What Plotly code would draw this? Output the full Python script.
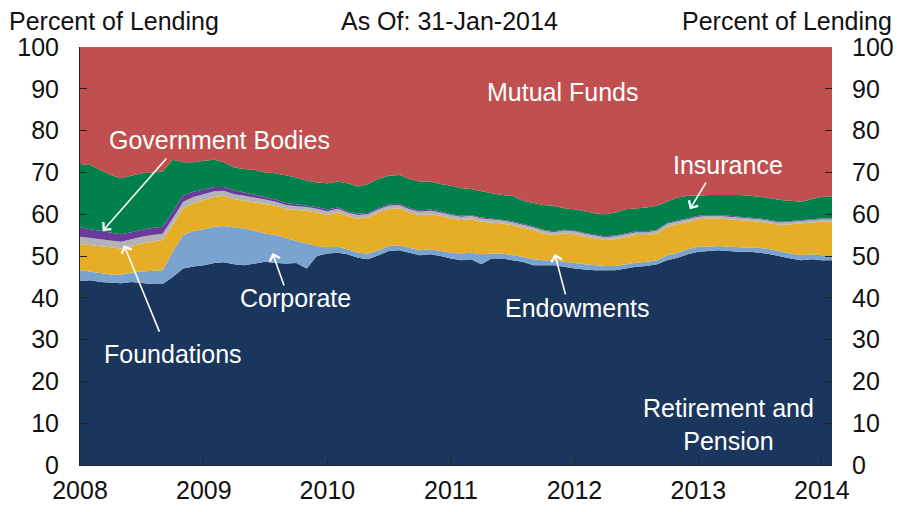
import plotly.graph_objects as go
import pandas as pd

# Monthly observations, Jan 2008 .. Jan 2014, plus the 31-Jan-2014 as-of date
dates = list(pd.date_range("2008-01-01", "2014-01-01", freq="MS").strftime("%Y-%m-%d")) + ["2014-01-31"]

# Share of securities lending by lender type (percent)
retirement = [
    44.0, 44.2, 43.8, 43.6, 43.5, 43.8, 43.5, 43.3, 43.3, 45.0, 47.0, 47.5,
    47.8, 48.3, 48.5, 48.0, 47.8, 48.3, 48.6, 48.3, 48.2, 48.3, 47.0, 50.0,
    50.6, 50.8, 50.4, 49.6, 49.2, 50.2, 51.2, 51.4, 50.8, 50.2, 50.4, 50.0,
    49.4, 49.0, 49.2, 48.0, 49.4, 49.4, 49.0, 48.6, 47.8, 47.8, 47.8, 47.4,
    47.0, 46.8, 46.6, 46.6, 46.6, 47.0, 47.4, 47.6, 48.0, 49.0, 49.6, 50.4,
    51.0, 51.2, 51.4, 51.2, 51.0, 51.0, 50.8, 50.4, 49.8, 49.4, 49.0, 49.2,
    49.0, 49.0,
]
corporate = [
    2.6, 2.0, 2.2, 2.0, 2.0, 2.2, 2.8, 3.2, 3.3, 6.0, 8.0, 8.5,
    8.6, 8.7, 8.7, 8.8, 8.8, 7.7, 6.8, 6.7, 6.0, 5.3, 6.0, 2.4,
    1.5, 1.4, 1.2, 1.2, 1.4, 1.2, 1.2, 1.2, 1.2, 1.2, 1.2, 1.2,
    1.4, 1.6, 1.6, 2.4, 1.2, 1.2, 1.2, 1.2, 1.4, 1.2, 1.2, 1.2,
    1.3, 1.2, 1.2, 1.0, 1.0, 1.0, 1.0, 1.0, 1.0, 1.2, 1.2, 1.2,
    1.2, 1.1, 1.0, 1.0, 1.1, 1.0, 1.1, 1.2, 1.2, 1.2, 1.2, 1.2,
    1.2, 1.2,
]
endowments = [
    6.3, 6.4, 6.4, 6.4, 6.3, 6.4, 6.7, 6.9, 7.2, 6.5, 6.5, 6.6,
    7.0, 7.2, 7.2, 6.8, 6.6, 6.8, 7.0, 7.0, 7.0, 7.4, 7.8, 8.0,
    7.7, 8.2, 8.0, 8.2, 8.6, 9.0, 8.8, 8.8, 8.4, 8.4, 8.4, 8.4,
    8.2, 8.0, 8.0, 7.8, 7.4, 7.2, 7.2, 7.0, 7.0, 6.4, 6.0, 6.8,
    6.9, 6.6, 6.4, 6.2, 6.4, 6.6, 6.6, 6.4, 6.4, 6.8, 6.8, 6.6,
    6.6, 6.7, 6.6, 6.6, 6.5, 6.4, 6.3, 6.2, 6.4, 7.0, 7.6, 7.6,
    8.0, 8.0,
]
foundations = [
    1.7, 1.7, 1.7, 1.7, 1.6, 1.6, 1.6, 1.6, 1.5, 1.5, 1.5, 1.5,
    1.4, 1.3, 1.2, 1.2, 1.2, 1.2, 1.1, 1.0, 1.0, 0.9, 0.9, 0.9,
    0.9, 0.9, 0.8, 0.8, 0.8, 0.8, 0.8, 0.8, 0.8, 0.8, 0.8, 0.8,
    0.8, 0.8, 0.8, 0.8, 0.8, 0.7, 0.7, 0.7, 0.7, 0.7, 0.7, 0.7,
    0.7, 0.7, 0.7, 0.7, 0.7, 0.7, 0.7, 0.7, 0.7, 0.7, 0.7, 0.7,
    0.6, 0.6, 0.6, 0.6, 0.6, 0.6, 0.6, 0.6, 0.6, 0.6, 0.6, 0.6,
    0.6, 0.6,
]
government = [
    2.2, 2.1, 2.0, 1.9, 1.8, 1.7, 1.7, 1.7, 1.7, 1.6, 1.5, 1.3,
    1.2, 1.0, 0.9, 0.9, 0.8, 0.7, 0.6, 0.5, 0.5, 0.5, 0.4, 0.4,
    0.4, 0.3, 0.3, 0.3, 0.3, 0.3, 0.3, 0.3, 0.3, 0.3, 0.3, 0.3,
    0.2, 0.2, 0.2, 0.2, 0.2, 0.2, 0.2, 0.2, 0.2, 0.2, 0.2, 0.2,
    0.2, 0.2, 0.2, 0.2, 0.2, 0.2, 0.2, 0.2, 0.2, 0.2, 0.2, 0.2,
    0.2, 0.2, 0.2, 0.2, 0.2, 0.2, 0.2, 0.2, 0.2, 0.2, 0.2, 0.2,
    0.2, 0.2,
]
insurance = [
    15.2, 15.4, 14.5, 13.8, 13.4, 13.5, 13.5, 13.3, 13.2, 12.4, 7.9, 7.0,
    6.8, 6.5, 5.9, 5.5, 5.6, 5.9, 5.9, 6.3, 6.5, 6.4, 5.9, 5.9,
    6.3, 6.2, 6.7, 6.5, 6.9, 6.9, 6.9, 6.9, 6.9, 6.9, 6.7, 6.5,
    6.8, 6.6, 6.2, 6.2, 6.0, 5.9, 6.1, 5.5, 5.5, 5.9, 6.1, 5.1,
    5.1, 5.1, 5.1, 5.3, 5.5, 5.7, 5.5, 5.7, 5.7, 5.1, 5.5, 5.3,
    4.8, 4.8, 4.8, 5.0, 5.2, 5.2, 5.2, 5.2, 5.2, 4.8, 4.4, 4.8,
    5.2, 5.2,
]
mutual_funds = [
    28.0, 28.2, 29.4, 30.6, 31.4, 30.8, 30.2, 30.0, 29.8, 27.0, 27.6, 27.6,
    27.2, 27.0, 27.6, 28.8, 29.2, 29.4, 30.0, 30.2, 30.8, 31.2, 32.0, 32.4,
    32.6, 32.2, 32.6, 33.4, 32.8, 31.6, 30.8, 30.6, 31.6, 32.2, 32.2, 32.8,
    33.2, 33.8, 34.0, 34.6, 35.0, 35.4, 35.6, 36.8, 37.4, 37.8, 38.0, 38.6,
    38.8, 39.4, 39.8, 40.0, 39.6, 38.8, 38.6, 38.4, 38.0, 37.0, 36.0, 35.6,
    35.6, 35.4, 35.4, 35.4, 35.4, 35.6, 35.8, 36.2, 36.6, 36.8, 37.0, 36.4,
    35.8, 35.8,
]

series = [
    ("Retirement and Pension", retirement, "#1B365D"),
    ("Corporate", corporate, "#7BA3D0"),
    ("Endowments", endowments, "#E6AD27"),
    ("Foundations", foundations, "#B4B4B6"),
    ("Government Bodies", government, "#6C3A9C"),
    ("Insurance", insurance, "#00804B"),
    ("Mutual Funds", mutual_funds, "#C0504F"),
]

FONT = "Liberation Sans, Arial, Helvetica, sans-serif"
FS = 25

fig = go.Figure()
for name, vals, color in series:
    fig.add_trace(go.Scatter(
        x=dates, y=vals, name=name, stackgroup="lend", mode="lines",
        line=dict(width=0, color=color), fillcolor=color, hoverinfo="skip",
    ))

# invisible trace so the right-hand percent axis is drawn
fig.add_trace(go.Scatter(x=[dates[0]], y=[0], yaxis="y2", mode="markers",
                         marker=dict(opacity=0), showlegend=False, hoverinfo="skip"))

axis_font = dict(family=FONT, size=FS, color="#111111")
fig.update_layout(
    width=904, height=512,
    margin=dict(l=80, r=72, t=47, b=47, autoexpand=False),
    paper_bgcolor="white", plot_bgcolor="white",
    showlegend=False,
    font=dict(family=FONT, size=FS, color="#111111"),
    xaxis=dict(
        type="date", range=["2008-01-01", "2014-01-31"],
        dtick="M12", tick0="2008-01-01", tickformat="%Y",
        ticks="inside", ticklen=7, tickwidth=1, tickcolor="#222222",
        showline=True, linecolor="#222222", linewidth=1,
        showgrid=False, zeroline=False, tickfont=axis_font,
        ticklabelstandoff=3, automargin=False,
    ),
    yaxis=dict(
        range=[0, 100], dtick=10, ticks="inside", ticklen=7, tickwidth=1,
        tickcolor="#222222", showline=True, linecolor="#222222", linewidth=1,
        showgrid=False, zeroline=False, tickfont=axis_font,
        ticklabelstandoff=15, automargin=False,
    ),
    yaxis2=dict(
        range=[0, 100], dtick=10, overlaying="y", side="right",
        ticks="inside", ticklen=7, tickwidth=1, tickcolor="#222222",
        showline=False, showgrid=False, zeroline=False, tickfont=axis_font,
        ticklabelstandoff=19, automargin=False,
    ),
)

def label(text, x, y, xanchor="center", yanchor="middle", color="white", yshift=0):
    fig.add_annotation(text=text, x=x, y=y, xref="paper", yref="paper",
                       showarrow=False, xanchor=xanchor, yanchor=yanchor,
                       yshift=yshift, font=dict(family=FONT, size=FS, color=color))

# header texts
label("Percent of Lending", -0.097, 1.0, xanchor="left", yanchor="bottom",
      color="#111111", yshift=10)
label("Percent of Lending", 1.082, 1.0, xanchor="right", yanchor="bottom",
      color="#111111", yshift=10)
label("As Of: 31-Jan-2014", 0.492, 1.0, yanchor="bottom",
      color="#111111", yshift=10)

# in-plot series labels
label("Mutual Funds", 0.641, 0.892)
label("Government Bodies", 0.186, 0.777)
label("Insurance", 0.862, 0.718)
label("Corporate", 0.287, 0.399)
label("Endowments", 0.662, 0.375)
label("Foundations", 0.124, 0.266)
label("Retirement and<br>Pension", 0.863, 0.097)

# pointer arrows to the thin bands
arrows = [
    ("2008-03-08", 56.0, 65, -74),
    ("2008-05-10", 52.6, 36, 88),
    ("2009-07-23", 50.7, 12, 34),
    ("2011-11-04", 50.5, 11, 42),
    ("2012-12-07", 61.2, 17, -28),
]
for ax_date, val, dx, dy in arrows:
    fig.add_annotation(x=ax_date, y=val, xref="x", yref="y", text="",
                       showarrow=True, ax=dx, ay=dy, arrowhead=4, arrowsize=1.3,
                       arrowwidth=1.6, arrowcolor="white", standoff=0)

fig.write_html("out.html")
